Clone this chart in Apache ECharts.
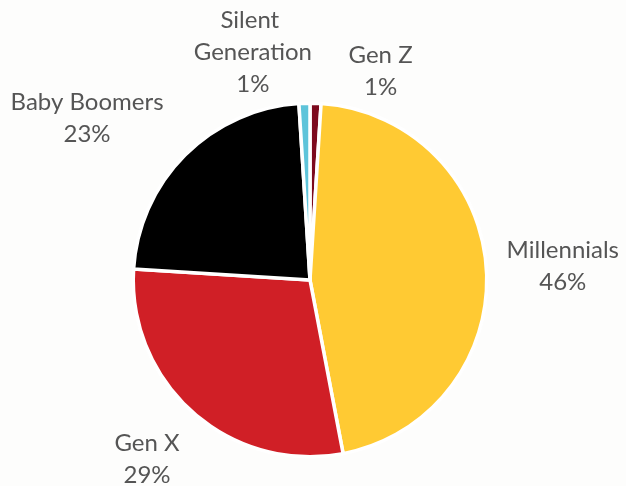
<!DOCTYPE html>
<html>
<head>
<meta charset="utf-8">
<script src="https://cdn.jsdelivr.net/npm/echarts@6/dist/echarts.min.js"></script>
<style>
  html, body { margin: 0; padding: 0; background: #fdfdfc; }
  #chart { width: 626px; height: 486px; }
</style>
</head>
<body>
<div id="chart"></div>
<script>
// Generation shares (percent), clockwise from 12 o'clock
const categories = ['Gen Z', 'Millennials', 'Gen X', 'Baby Boomers', 'Silent Generation'];
const shares = [1, 46, 29, 23, 1];
const sliceColors = ['#7d0a1e', '#ffca33', '#d01f26', '#000000', '#5ec4da'];

// Pie geometry
const CX = 310, CY = 280;
const BORDER = 3.5;
const R = 175 + BORDER / 2;
const LABEL_GAP = 18;

// Small manual shifts where neighbouring labels would collide
const labelNudge = {
  'Gen Z': [63, 16],
  'Millennials': [4, 1],
  'Gen X': [-3, 2],
  'Baby Boomers': [-10, 7],
  'Silent Generation': [-48, 13]
};

const total = shares.reduce((a, b) => a + b, 0);
const cumBefore = shares.map((_, i) => shares.slice(0, i).reduce((a, b) => a + b, 0));
const clamp = v => Math.max(-1, Math.min(1, v));

const chart = echarts.init(document.getElementById('chart'), null, { renderer: 'canvas' });

chart.setOption({
  backgroundColor: '#fdfdfc',
  animation: false,
  series: [{
    type: 'pie',
    center: [CX, CY],
    radius: R,
    startAngle: 90,
    clockwise: true,
    percentPrecision: 0,
    avoidLabelOverlap: false,
    itemStyle: { borderColor: '#ffffff', borderWidth: BORDER },
    emphasis: { disabled: true },
    label: {
      show: true,
      position: 'outside',
      formatter: '{b}\n{d}%',
      fontFamily: 'Lato',
      fontSize: 24,
      lineHeight: 32,
      color: '#555555'
    },
    labelLine: { show: false },
    labelLayout: function (params) {
      const i = params.dataIndex;
      const theta = (cumBefore[i] + shares[i] / 2) / total * Math.PI * 2;
      const dx = Math.sin(theta), dy = -Math.cos(theta);
      const rect = params.labelRect;
      const a = R - BORDER / 2 + LABEL_GAP;
      const nudge = labelNudge[categories[i]] || [0, 0];
      return {
        x: CX + dx * a + rect.width / 2 * clamp(1.5 * dx) + nudge[0],
        y: CY + dy * a + rect.height / 2 * clamp(1.5 * dy) + nudge[1],
        align: 'center',
        verticalAlign: 'middle'
      };
    },
    data: categories.map((name, i) => {
      const item = { name: name, value: shares[i], itemStyle: { color: sliceColors[i] } };
      if (name === 'Silent Generation') {
        item.label = { width: 130, overflow: 'break' };
      }
      return item;
    })
  }]
});
</script>
</body>
</html>
